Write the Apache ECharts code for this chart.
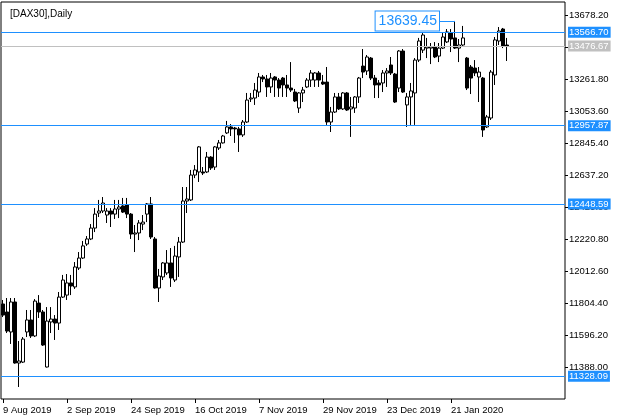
<!DOCTYPE html>
<html>
<head>
<meta charset="utf-8">
<script src="https://cdn.jsdelivr.net/npm/echarts@6/dist/echarts.min.js"></script>
<style>
html,body{margin:0;padding:0;background:#fff;}
#chart{width:623px;height:420px;}
</style>
</head>
<body>
<div id="chart"></div>
<script>
const symbolTitle = '[DAX30],Daily';
const dates = [
'9 Aug 2019','12 Aug 2019','13 Aug 2019','14 Aug 2019','15 Aug 2019','16 Aug 2019','19 Aug 2019','20 Aug 2019','21 Aug 2019','22 Aug 2019','23 Aug 2019','26 Aug 2019','27 Aug 2019','28 Aug 2019','29 Aug 2019','30 Aug 2019',
'2 Sep 2019','3 Sep 2019','4 Sep 2019','5 Sep 2019','6 Sep 2019','9 Sep 2019','10 Sep 2019','11 Sep 2019','12 Sep 2019','13 Sep 2019','16 Sep 2019','17 Sep 2019','18 Sep 2019','19 Sep 2019','20 Sep 2019','23 Sep 2019',
'24 Sep 2019','25 Sep 2019','26 Sep 2019','27 Sep 2019','30 Sep 2019','1 Oct 2019','2 Oct 2019','3 Oct 2019','4 Oct 2019','7 Oct 2019','8 Oct 2019','9 Oct 2019','10 Oct 2019','11 Oct 2019','14 Oct 2019','15 Oct 2019',
'16 Oct 2019','17 Oct 2019','18 Oct 2019','21 Oct 2019','22 Oct 2019','23 Oct 2019','24 Oct 2019','25 Oct 2019','28 Oct 2019','29 Oct 2019','30 Oct 2019','31 Oct 2019','1 Nov 2019','4 Nov 2019','5 Nov 2019','6 Nov 2019',
'7 Nov 2019','8 Nov 2019','11 Nov 2019','12 Nov 2019','13 Nov 2019','14 Nov 2019','15 Nov 2019','18 Nov 2019','19 Nov 2019','20 Nov 2019','21 Nov 2019','22 Nov 2019','25 Nov 2019','26 Nov 2019','27 Nov 2019','28 Nov 2019',
'29 Nov 2019','2 Dec 2019','3 Dec 2019','4 Dec 2019','5 Dec 2019','6 Dec 2019','9 Dec 2019','10 Dec 2019','11 Dec 2019','12 Dec 2019','13 Dec 2019','16 Dec 2019','17 Dec 2019','18 Dec 2019','19 Dec 2019','20 Dec 2019',
'23 Dec 2019','27 Dec 2019','30 Dec 2019','2 Jan 2020','3 Jan 2020','6 Jan 2020','7 Jan 2020','8 Jan 2020','9 Jan 2020','10 Jan 2020','13 Jan 2020','14 Jan 2020','15 Jan 2020','16 Jan 2020','17 Jan 2020','20 Jan 2020',
'21 Jan 2020','22 Jan 2020','23 Jan 2020','24 Jan 2020','27 Jan 2020','28 Jan 2020','29 Jan 2020','30 Jan 2020','31 Jan 2020','3 Feb 2020','4 Feb 2020','5 Feb 2020','6 Feb 2020','7 Feb 2020','10 Feb 2020'
];
const futureSlots = 14;

const opens = [
11798,11746,11616,11811,11414,11420,11616,11694,11590,11804,11746,11388,11681,11700,11674,11843,
11856,11935,11909,12032,12097,12188,12221,12292,12390,12403,12377,12403,12383,12416,12436,12442,
12383,12253,12260,12318,12383,12449,12221,11902,11974,12000,12065,11954,12104,12201,12468,12475,
12637,12657,12657,12657,12754,12689,12813,12846,12911,12950,12943,12937,12898,12982,13132,13138,
13177,13275,13262,13210,13275,13255,13268,13223,13203,13177,13073,13171,13210,13255,13255,13301,
13242,13242,12982,13047,13145,13067,13171,13067,13073,13145,13346,13314,13398,13268,13236,13236,
13301,13353,13294,13203,13444,13093,13145,13171,13385,13450,13463,13463,13470,13411,13463,13503,
13561,13529,13463,13483,13398,13340,13333,13275,13268,12950,13008,13288,13509,13587,13483
];
const closes = [
11726,11622,11811,11414,11427,11570,11694,11590,11817,11746,11531,11687,11700,11674,11843,11954,
11935,11915,12039,12097,12176,12221,12292,12383,12403,12455,12403,12383,12416,12429,12396,12383,
12253,12260,12325,12331,12449,12234,11902,11980,12065,12065,11967,12110,12201,12468,12481,12637,
12670,12820,12650,12754,12683,12820,12846,12891,12950,12937,12937,12898,12982,13125,13138,13190,
13275,13262,13210,13268,13255,13203,13223,13203,13190,13119,13171,13190,13255,13301,13301,13255,
13229,12982,13047,13145,13067,13171,13060,13080,13145,13268,13307,13405,13268,13223,13223,13301,
13314,13301,13112,13444,13177,13145,13184,13385,13509,13548,13470,13470,13405,13463,13535,13568,
13522,13463,13483,13529,13203,13268,13301,13307,12930,13015,13307,13516,13574,13477,13476.67
];
const lows = [
11713,11609,11538,11410,11258,11414,11583,11577,11583,11707,11525,11385,11609,11564,11629,11837,
11824,11856,11896,12019,12091,12176,12214,12266,12364,12390,12325,12299,12351,12357,12390,12357,
12221,12136,12214,12279,12331,12221,11898,11811,11954,11987,11909,11941,11974,12195,12390,12468,
12617,12592,12637,12650,12670,12670,12800,12842,12904,12891,12846,12787,12885,12976,13112,13093,
13145,13242,13145,13171,13145,13145,13145,13145,13177,13112,13041,13112,13203,13210,13210,13210,
13223,12963,12917,13041,13060,13060,13054,12885,13041,13106,13268,13288,13255,13138,13138,13177,
13210,13288,13106,13177,13171,12950,12963,12963,13372,13431,13398,13359,13398,13372,13457,13496,
13437,13457,13372,13470,13190,13164,13281,13112,12885,12943,12995,13223,13483,13463,13379
];
const highs = [
11824,11837,11837,11837,11557,11583,11759,11759,11830,11856,11759,11778,11778,11726,11876,11987,
11993,11987,12071,12136,12208,12240,12318,12422,12475,12494,12422,12422,12475,12475,12488,12488,
12390,12312,12344,12377,12455,12494,12234,12026,12071,12149,12162,12176,12234,12559,12559,12670,
12702,12826,12689,12787,12760,12826,12865,12898,12989,12969,12950,12950,12995,13171,13171,13236,
13301,13288,13288,13301,13281,13268,13275,13288,13372,13197,13177,13210,13268,13320,13307,13314,
13288,13340,13080,13171,13171,13177,13177,13145,13151,13275,13457,13418,13405,13288,13255,13320,
13333,13405,13301,13450,13457,13171,13236,13398,13529,13561,13529,13496,13502,13496,13561,13587,
13587,13639.45,13522,13607,13405,13353,13385,13340,13275,13028,13320,13535,13600,13594,13529
];

const levelLines = [13566.70, 12957.87, 12448.59, 11328.09];
const bidPrice = 13476.67;
const tickValues = [13678.20,13470.00,13261.80,13053.60,12845.40,12637.20,12429.00,12220.80,12012.60,11804.40,11596.20,11388.00];
const highLabelValue = 13639.45;
const highLabelBar = 113;
const highLabelAnchorBar = 109;
const yMin = 11179.9, yMax = 13762.8;

const blue = '#1E90FF';
const font = '"Liberation Sans", Arial, sans-serif';

const categories = dates.concat(new Array(futureSlots).fill(''));
const candleData = opens.map((o, i) => [o, closes[i], lows[i], highs[i]]);

const chart = echarts.init(document.getElementById('chart'));
const levelData = levelLines.map(v => ({
  yAxis: v,
  lineStyle: {color: blue, width: 1, type: 'solid'},
  label: {show: true, position: 'end', distance: 3, formatter: v.toFixed(2),
    backgroundColor: blue, color: '#fff', fontSize: 9.5, fontFamily: font,
    padding: [1, 2, 0, 1], lineHeight: 10}
}));
levelData.push({
  yAxis: bidPrice,
  lineStyle: {color: '#c0c0c0', width: 1, type: 'solid'},
  label: {show: true, position: 'end', distance: 3, formatter: bidPrice.toFixed(2),
    backgroundColor: '#c0c0c0', color: '#fff', fontSize: 9.5, fontFamily: font,
    padding: [1, 2, 0, 1], lineHeight: 10}
});
levelData.push([
  {coord: [highLabelAnchorBar, highLabelValue], lineStyle: {color: blue, width: 1, type: 'solid'}, label: {show: false}},
  {coord: [highLabelBar, highLabelValue]}
]);

chart.setOption({
  animation: false,
  backgroundColor: '#fff',
  title: {
    text: symbolTitle, left: 5, top: 4,
    textStyle: {fontSize: 10, fontWeight: 'normal', color: '#000', fontFamily: font}
  },
  grid: {left: 1, right: 58, top: 2, bottom: 21, show: true, borderColor: '#000', borderWidth: 1, backgroundColor: '#fff'},
  xAxis: {
    type: 'category', data: categories, boundaryGap: true,
    axisLine: {show: false},
    axisTick: {show: true, alignWithLabel: true, length: 4, lineStyle: {color: '#000'},
      interval: (i, v) => i % 16 === 0 && v !== ''},
    axisLabel: {interval: (i, v) => i % 16 === 0 && v !== '', align: 'left', margin: 6,
      color: '#000', fontSize: 9.5, fontFamily: font},
    splitLine: {show: false}
  },
  yAxis: {
    type: 'value', position: 'right', min: yMin, max: yMax, scale: true,
    axisLine: {show: false},
    axisTick: {show: true, length: 3, lineStyle: {color: '#000'}, customValues: tickValues},
    axisLabel: {show: true, customValues: tickValues, margin: 4, color: '#000', fontSize: 9.5, fontFamily: font,
      formatter: v => v.toFixed(2)},
    splitLine: {show: false}
  },
  series: [{
    type: 'candlestick',
    data: candleData,
    barWidth: 3,
    itemStyle: {color: '#fff', color0: '#000', borderColor: '#000', borderColor0: '#000', borderWidth: 1},
    markLine: {
      symbol: ['none', 'none'], silent: true, animation: false,
      data: levelData
    },
    markPoint: {
      silent: true, animation: false,
      data: [{
        coord: [highLabelAnchorBar, highLabelValue], symbol: 'rect', symbolSize: 0,
        label: {show: true, position: 'left', distance: 0, formatter: highLabelValue.toFixed(2),
          color: blue, fontSize: 14, fontFamily: font, backgroundColor: '#fff',
          borderColor: blue, borderWidth: 1, padding: [2, 2, 1, 3], lineHeight: 16}
      }]
    }
  }]
});
</script>
</body>
</html>
